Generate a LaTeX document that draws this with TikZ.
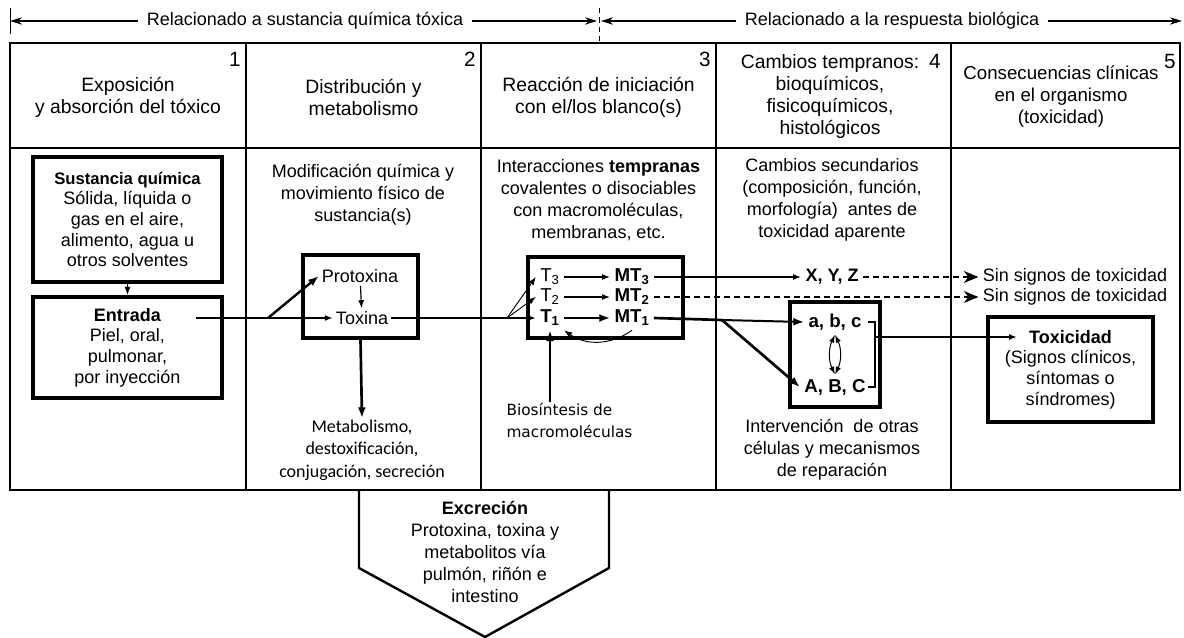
\documentclass[tikz,border=0pt]{standalone}
\usepackage{fontspec}
\setmainfont{Liberation Sans}
\newfontfamily\calfont{Carlito}
\newfontfamily\dvfont{DejaVu Sans}
\usetikzlibrary{arrows.meta}

\tikzset{every picture/.style={line width=0.75pt},
  txt/.style={font=\fontsize{13.5}{16.5}\selectfont, align=center, inner sep=0.75pt},
  hdr/.style={txt, font=\fontsize{14.5}{16.5}\selectfont},
  boxtxt/.style={txt, font=\fontsize{13.5}{15.5}\selectfont},
  tm/.style={txt, font=\fontsize{14}{16}\selectfont, inner sep=3pt},
  num/.style={font=\fontsize{15.5}{15.5}\selectfont, inner sep=0.75pt},
  tbl/.style={line width=1.1pt},
  fatbox/.style={draw, line width=3pt, inner sep=0pt},
  thinarr/.style={-{Latex[length=6pt,width=4.5pt]}, line width=0.9pt},
  fatarr/.style={-{Latex[length=8pt,width=6pt]}, line width=2pt},
  sinarr/.style={-{Stealth[length=11pt,width=9pt,inset=3.5pt]}, line width=0.9pt, dash pattern=on 4.5pt off 3pt},
  bannerarr/.style={-{Stealth[length=9pt,width=5.5pt]}, line width=0.9pt}
}

\begin{document}
\begin{tikzpicture}[x=0.75pt,y=0.75pt,yscale=-1,xscale=1]
\useasboundingbox (0,0) rectangle (1184,638);

%Banner
\draw (10,8) -- (10,34) ;
\draw [dash pattern={on 4pt off 3pt}] (599,8) -- (599,43) ;
% Text Node
\node [txt, inner xsep=6pt] (chem) at (305,21) {Relacionado a sustancia química tóxica};
% Text Node
\node [txt, inner xsep=6pt] (bio) at (892,21) {Relacionado a la respuesta biológica};
\coordinate (chemL) at (10,21);
\coordinate (chemR) at (597,21);
\coordinate (bioL) at (601,21);
\coordinate (bioR) at (1182,21);
\draw [bannerarr] (chem.west) -- (chemL) ;
\draw [bannerarr] (chem.east) -- (chemR) ;
\draw [bannerarr] (bio.west) -- (bioL) ;
\draw [bannerarr] (bio.east) -- (bioR) ;

%Shape: Table
\draw [tbl] (10,43) rectangle (1180,490) ;
\draw [tbl] (10,148) -- (1180,148) ;
\foreach \x in {246,481,716,951} {
  \draw [tbl] (\x,43) -- (\x,490) ;
}

% Header numbers
\node [num, anchor=east] (n1) at (242,59) {1};
\node [num, anchor=east] (n2) at (477,59) {2};
\node [num, anchor=east] (n3) at (712,59) {3};
\node [num, anchor=east] (n4) at (942,61) {4};
\node [num, anchor=east] (n5) at (1177,61) {5};

% Header texts
\node [hdr] (h1) at (128,97) {Exposición\\y absorción del tóxico};
\node [hdr] (h2) at (363.5,97) {Distribución y\\metabolismo};
\node [hdr] (h3) at (598.5,97) {Reacción de iniciación\\con el/los blanco(s)};
\node [hdr] (h4) at (830,97) {Cambios tempranos:\\bioquímicos,\\fisicoquímicos,\\histológicos};
\node [hdr, font=\fontsize{14}{16.5}\selectfont] (h5) at (1061,97) {Consecuencias clínicas\\en el organismo\\(toxicidad)};

%Column 1
\node [fatbox, line width=3.5pt, boxtxt, minimum width=141.75pt, minimum height=93.75pt] (sust) at (127.5,219.5)
  {\textbf{\fontsize{12.5}{15}\selectfont Sustancia química}\\Sólida, líquida o\\gas en el aire,\\alimento, agua u\\otros solventes};
\node [fatbox, line width=3.2pt, boxtxt, minimum width=141.75pt, minimum height=75.75pt] (entr) at (127.5,347.5)
  {\textbf{Entrada}\\Piel, oral,\\pulmonar,\\por inyección};
\draw [thinarr] (sust.south) -- (entr.north) ;
\coordinate (entOut) at (196,318);
\coordinate (f1) at (268,318);
\draw [line width=1.5pt] (entOut) -- (f1) ;

%Column 2
\node [txt] (modif) at (363,195) {Modificación química y\\movimiento físico de\\sustancia(s)};
\node [fatbox, minimum width=86.25pt, minimum height=62.25pt] (box2) at (360.5,296.5) {};
\node [txt, inner sep=2pt] (proto) at (360,276) {Protoxina};
\node [txt, inner sep=2pt] (tox) at (362,318) {Toxina};
\draw [fatarr, line width=1.8pt] (f1) -- (proto.west) ;
\draw [thinarr, line width=1.3pt] (f1) -- (tox.west) ;
\draw [thinarr] (proto) -- (tox) ;
\node [txt, font=\calfont\fontsize{13.5}{17}\selectfont] (metab) at (362,450) {Metabolismo,\\destoxificación,\\conjugación, secreción};
\draw [fatarr] (box2.south) -- (metab.north) ;
\coordinate (f2) at (507,318);
\draw [line width=1.5pt] (tox.east) -- (f2) ;

%Column 3
\node [txt] (inter) at (598.5,200) {Interacciones \textbf{tempranas}\\covalentes o disociables\\con macromoléculas,\\membranas, etc.};
\node [fatbox, line width=2.6pt, minimum width=116.25pt, minimum height=60.75pt] (box3) at (605.5,297.5) {};
\node [tm] (t3) at (550,277) {T\textsubscript{3}};
\node [tm] (t2) at (550,297) {T\textsubscript{2}};
\node [tm] (t1) at (550,318) {\textbf{T\textsubscript{1}}};
\node [tm] (mt3) at (632,277) {\textbf{MT\textsubscript{3}}};
\node [tm] (mt2) at (632,297) {\textbf{MT\textsubscript{2}}};
\node [tm] (mt1) at (632,318) {\textbf{MT\textsubscript{1}}};
\draw [thinarr] (t3) -- (mt3) ;
\draw [thinarr] (t2) -- (mt2) ;
\draw [fatarr, line width=1.6pt] (t1) -- (mt1) ;
\draw [thinarr, line width=0.7pt] (f2) -- (t3.west) ;
\draw [thinarr, line width=0.7pt] (f2) -- (t2.west) ;
\draw [thinarr, line width=1.4pt] (f2) -- (t1.west) ;
\node [txt, font=\dvfont\fontsize{11.5}{16}\selectfont, align=left, anchor=north west] (bios) at (505,402) {Biosíntesis de\\macromoléculas};
\draw [fatarr, line width=1.6pt] (bios.north -| t1.south) -- (t1.south) ;
\draw [thinarr, line width=0.7pt] (mt1.south) to [bend right=35] (t1.south east) ;

%Column 4
\node [txt] (sec) at (832,199.5) {Cambios secundarios\\(composición, función,\\morfología)~ antes de\\toxicidad aparente};
\node [txt, inner sep=3pt] (xyz) at (832,277) {\textbf{X, Y, Z}};
\node [txt, inner sep=3pt] (sin1) at (1075,277) {Sin signos de toxicidad};
\node [txt, inner sep=3pt] (sin2) at (1075,297) {Sin signos de toxicidad};
\draw [thinarr] (mt3) -- (xyz) ;
\draw [sinarr] (xyz) -- (sin1) ;
\draw [sinarr] (mt2) -- (sin2) ;
\coordinate (f3) at (722,320);
\draw [line width=2pt] (mt1.east) -- (f3) ;
\node [fatbox, line width=2.3pt, minimum width=67.5pt, minimum height=78.75pt] (box4) at (835,354.5) {};
\node [tm] (abc) at (835,322) {\textbf{a, b, c}};
\node [tm] (ABC) at (835,387) {\textbf{A, B, C}};
\draw [fatarr, line width=1.5pt] (f3) -- (abc.west) ;
\draw [fatarr] (f3) -- (ABC.west) ;
\draw [{Latex[length=6pt,width=4pt]}-{Latex[length=6pt,width=4pt]}] (abc.south) to [bend left=25] (ABC.north) ;
\draw [{Latex[length=6pt,width=4pt]}-{Latex[length=6pt,width=4pt]}] (abc.south) to [bend right=25] (ABC.north) ;
\coordinate (brT) at (868,322);
\coordinate (brB) at (868,387);
\coordinate (brM) at (875,337);
\draw [line width=1.2pt] (brT) -- (875,322) -- (875,387) -- (brB) ;
\node [txt] (interv) at (832,450) {Intervención~ de otras\\células y mecanismos\\de reparación};

%Column 5
\node [fatbox, line width=2.3pt, boxtxt, minimum width=123.75pt, minimum height=78.75pt] (toxbox) at (1070.5,369.5)
  {\textbf{Toxicidad}\\(Signos clínicos,\\síntomas o\\síndromes)};
\coordinate (toxIn) at (1017,337);
\draw [thinarr, line width=1.3pt] (brM) -- (toxIn) ;

%Shape: Excretion pentagon
\draw [line width=1.8pt] (359,490) -- (359,568) -- (485,637) -- (609,568) -- (609,490) ;
\node [txt] (excr) at (485,552) {\textbf{Excreción}\\Protoxina, toxina y\\metabolitos vía\\pulmón, riñón e\\intestino};

\end{tikzpicture}
\end{document}
